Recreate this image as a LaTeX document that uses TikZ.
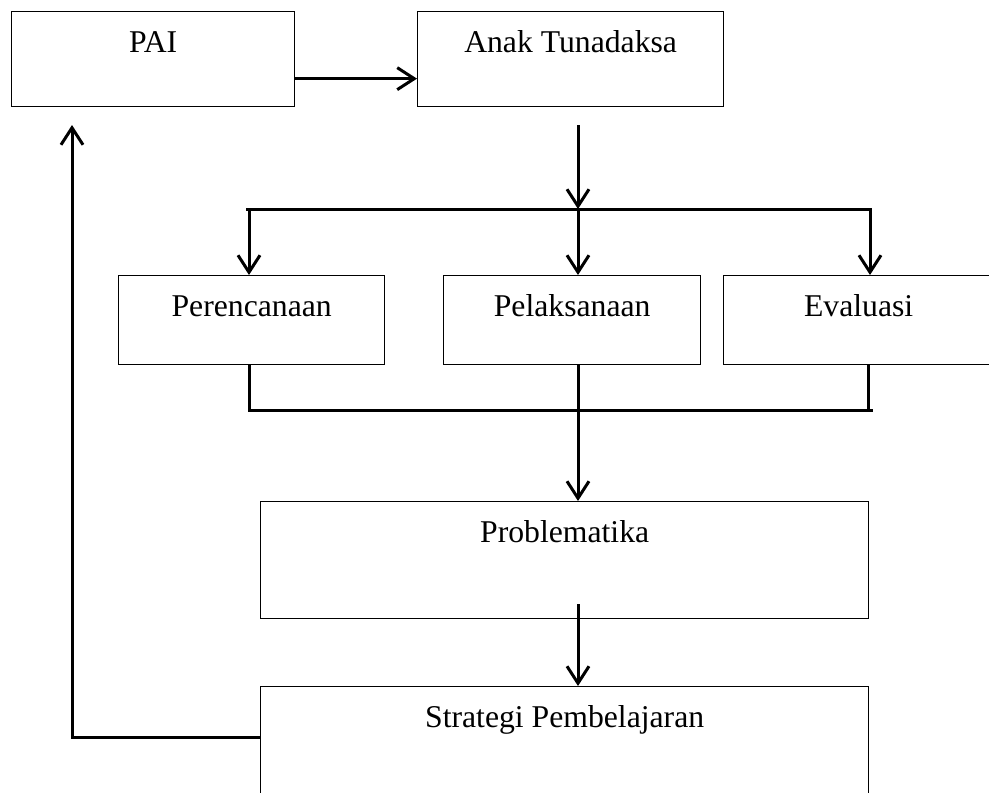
\documentclass[tikz,border=0pt]{standalone}
\usepackage{fontspec}
\setmainfont{Liberation Serif}
\usetikzlibrary{arrows.meta}
\tikzset{
  box/.style={draw, line width=1.3pt, inner sep=0pt, text height=41pt, anchor=north west},
  link/.style={line width=3pt},
}

\begin{document}
\begin{tikzpicture}[x=1pt, y=-1pt, >={Straight Barb[length=17pt,width=22pt]},
    font=\fontsize{31.7pt}{38pt}\selectfont]
  \useasboundingbox (0,0) rectangle (989,793);
  \clip (0,0) rectangle (989,793);

  % boxes
  \node[box, minimum width=283pt, text depth=54pt] (pai) at (11,11) {PAI};
  \node[box, minimum width=306pt, text depth=54pt] (anak) at (417,11) {Anak Tunadaksa};
  \node[box, minimum width=266pt, text depth=48pt] (plan) at (118,275) {Perencanaan};
  \node[box, minimum width=257pt, text depth=48pt] (impl) at (443,275) {Pelaksanaan};
  \node[box, minimum width=270pt, text depth=48pt] (eval) at (723,275) {Evaluasi};
  \node[box, minimum width=608pt, text depth=76pt] (prob) at (260,501) {Problematika};
  \node[box, minimum width=608pt, text depth=79pt] (strat) at (260,686) {Strategi Pembelajaran};

  % junctions
  \coordinate (mid top) at (578,125);
  \coordinate (fork) at (578,209);
  \coordinate (fork l) at (249,209);
  \coordinate (fork r) at (870,209);
  \coordinate (join l) at (249,410);
  \coordinate (join r) at (868,410);
  \coordinate (prob out) at (578,604);
  \coordinate (back) at (72,737);
  \coordinate (back up) at (72,125);

  % connectors
  \draw[link,->] ([yshift=-19.5pt]pai.east) -- ([yshift=-19.5pt]anak.west);
  \draw[link,->] (mid top) -- (fork);
  \draw[link] ([xshift=-3pt]fork l) -- ([xshift=2pt]fork r);
  \draw[link,->] (fork l) -- (fork l |- plan.north);
  \draw[link,->] (fork) -- (fork |- impl.north);
  \draw[link,->] (fork r) -- (fork r |- eval.north);
  \draw[link] (join l |- plan.south) -- (join l) -- ([xshift=5pt]join r);
  \draw[link] (join r |- eval.south) -- (join r);
  \draw[link,->] (fork |- impl.south) -- (fork |- prob.north);
  \draw[link,->] (prob out) -- (prob out |- strat.north);
  \draw[link,->] (strat.west |- back) -- (back) -- (back up);
\end{tikzpicture}
\end{document}
